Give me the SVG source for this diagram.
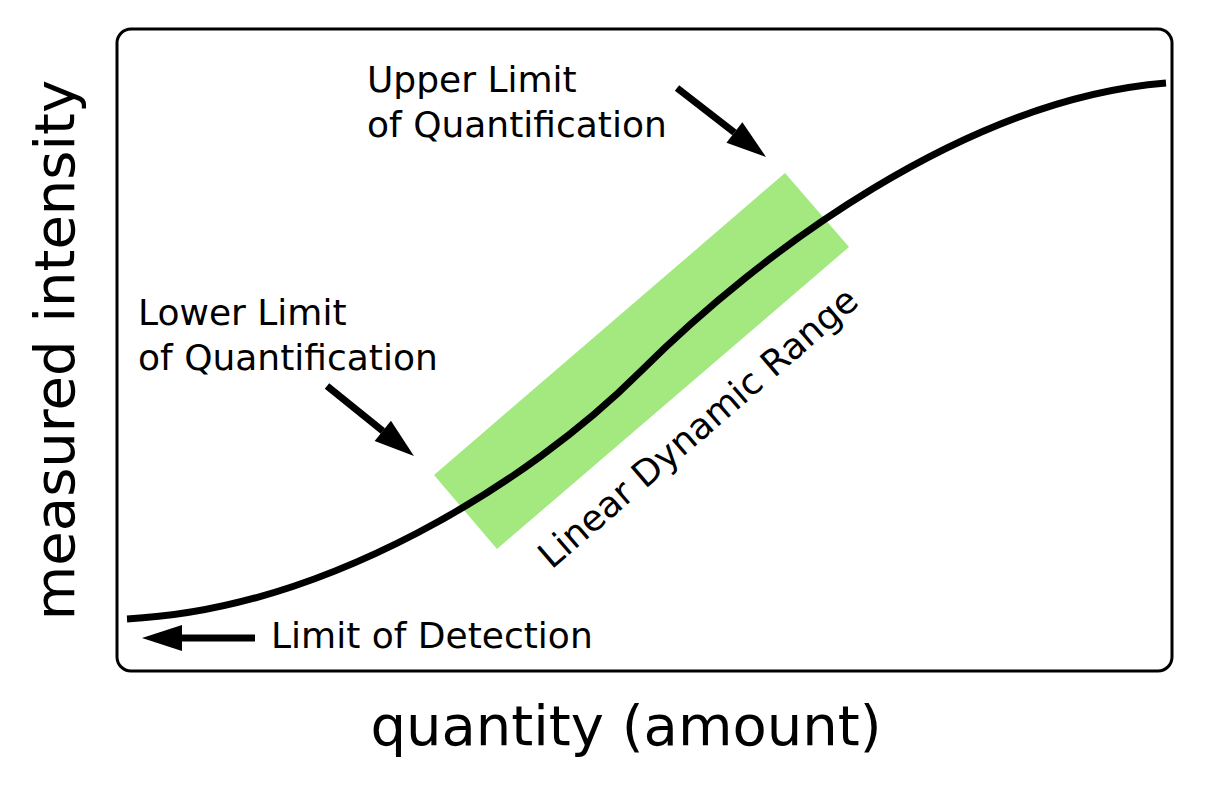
<svg xmlns="http://www.w3.org/2000/svg" width="1216" height="789" viewBox="0 0 1216 789">
  <style>
    .lbl { font-family: "DejaVu Sans", Verdana, sans-serif; font-size: 36px; fill: #000; }
    .axis { font-family: "DejaVu Sans", Verdana, sans-serif; font-size: 56px; fill: #000; }
    .arrow { stroke: #000; stroke-width: 7; fill: none; marker-end: url(#head); }
  </style>
  <defs>
    <marker id="head" markerUnits="userSpaceOnUse" markerWidth="40" markerHeight="26" viewBox="0 -13 40 26" refX="0" refY="0" orient="auto" overflow="visible">
      <path d="M0,-13 L40,0 L0,13 Z" fill="#000"/>
    </marker>
  </defs>
  <rect width="1216" height="789" fill="#fff"/>

  <g id="frame">
    <rect x="117" y="29" width="1055" height="642" rx="14" ry="14" fill="none" stroke="#000" stroke-width="3"/>
  </g>

  <g id="linear-range">
    <polygon points="434,475 497,549 849,247 785,173" fill="#a3e980"/>
    <text class="lbl" transform="translate(706,437) rotate(-40.7)" text-anchor="middle">Linear Dynamic Range</text>
  </g>

  <g id="curve">
    <path d="M127,619 C327,609 530,482 640,372 C760,252 966,99 1166,83" fill="none" stroke="#000" stroke-width="7"/>
  </g>

  <g id="connectors">
    <line class="arrow" x1="327" y1="386" x2="382.8" y2="430.9"/>
    <line class="arrow" x1="677" y1="88" x2="734.4" y2="132.5"/>
    <line class="arrow" x1="255" y1="638" x2="182" y2="638"/>
  </g>

  <g id="uloq">
    <text class="lbl" x="367" y="92">Upper Limit</text>
    <text class="lbl" x="367" y="137">of Quantification</text>
  </g>

  <g id="lloq">
    <text class="lbl" x="138" y="325">Lower Limit</text>
    <text class="lbl" x="138" y="370">of Quantification</text>
  </g>

  <g id="lod">
    <text class="lbl" x="271" y="648">Limit of Detection</text>
  </g>

  <g id="axis-x">
    <text class="axis" x="626" y="745" text-anchor="middle">quantity (amount)</text>
  </g>

  <g id="axis-y">
    <text class="axis" transform="translate(74,350) rotate(-90)" text-anchor="middle">measured intensity</text>
  </g>
</svg>
